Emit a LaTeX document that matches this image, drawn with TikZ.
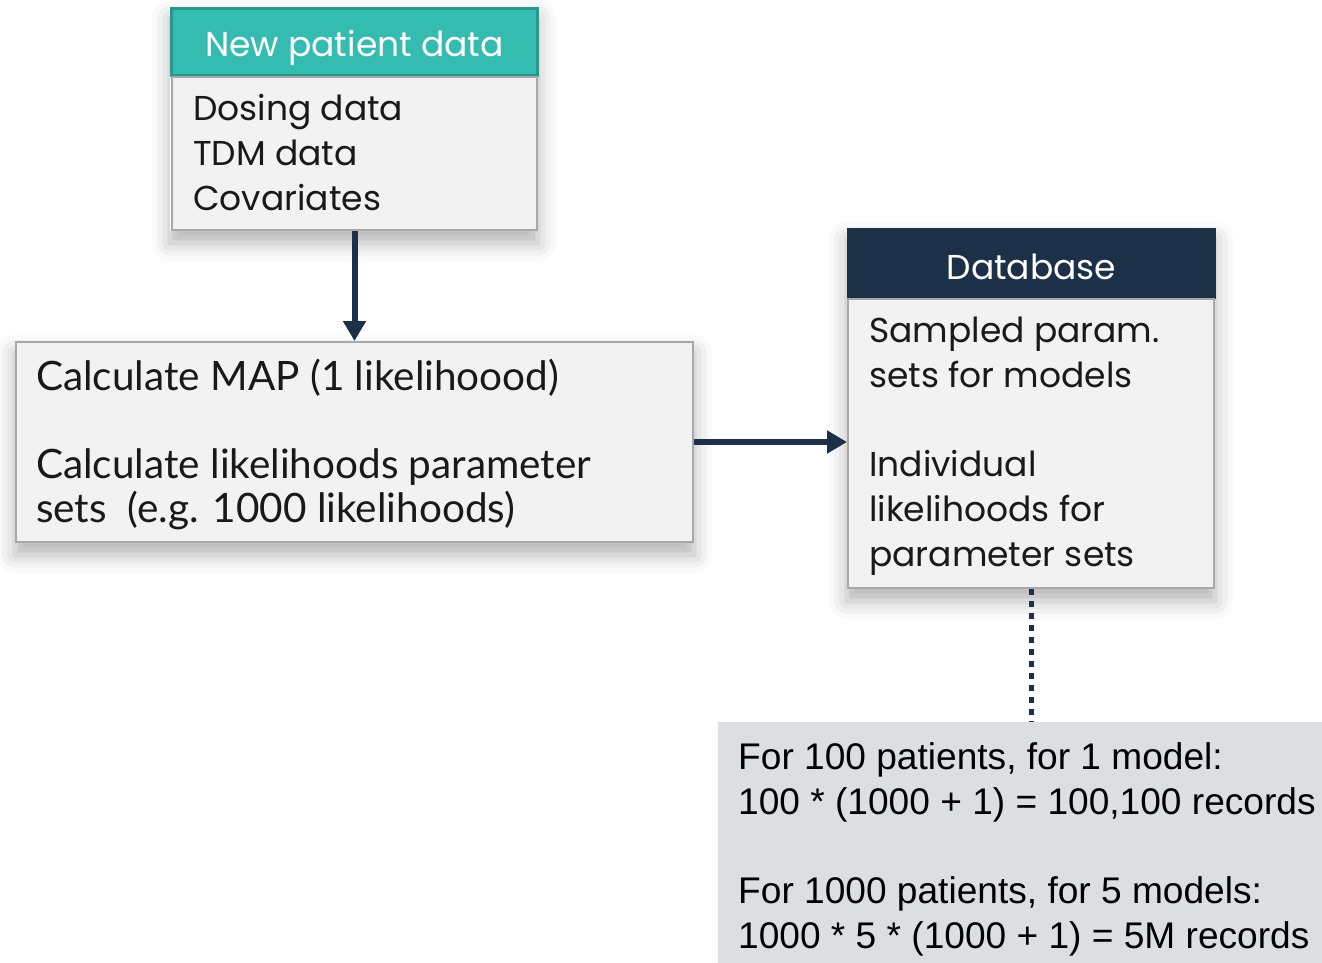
\documentclass[tikz,border=0pt]{standalone}
\usepackage{fontspec}
\setmainfont{Poppins}
\newfontfamily\calcfont{Lato}
\newfontfamily\arialfont{Liberation Sans}
\usetikzlibrary{arrows.meta,shadows.blur}
\definecolor{tealhdr}{HTML}{35BCB0}
\definecolor{tealedge}{HTML}{2A978C}
\definecolor{navy}{HTML}{1C3048}
\definecolor{bodyfill}{HTML}{F2F2F2}
\definecolor{bodyedge}{HTML}{A8A8A8}
\definecolor{notefill}{HTML}{DCDFE2}
\pgfdeclarelayer{bg}
\pgfsetlayers{bg,main}
\tikzset{
  hdrbox/.style={rectangle, inner sep=0pt},
  hdrtext/.style={inner sep=0pt, text=white, font=\fontsize{34.5}{44}\selectfont},
  bodybox/.style={rectangle, inner sep=0pt, fill=bodyfill, draw=bodyedge, line width=2pt},
  bodytext/.style={anchor=west, inner sep=0pt, align=left, text=black!90, font=\fontsize{34.5}{45}\selectfont},
  softshadow/.style={fill=white, blur shadow={shadow xshift=0pt, shadow yshift=-12pt, shadow blur radius=18pt, shadow opacity=30}},
  conn/.style={draw=navy, line width=6pt, -{Triangle[length=20pt,width=22pt]}},
  dotconn/.style={draw=navy, line width=5pt, dash pattern=on 6pt off 6pt},
}
\begin{document}
\begin{tikzpicture}[x=1pt,y=-1pt]
\useasboundingbox (0,0) rectangle (1322,963);

% input box: header and list of data
\node[hdrbox, fill=tealhdr, draw=tealedge, line width=3pt, minimum width=366pt, minimum height=67pt] (nph) at (354.5,42) {};
\node[hdrtext] (npht) at (354.5,47.5) {New patient data};
\node[bodybox, minimum width=365pt, minimum height=153pt] (npb) at (354.5,153.5) {};
\node[bodytext] (npt) at (193,153) {Dosing data\\TDM data\\Covariates};

% calculation box
\node[bodybox, minimum width=677pt, minimum height=200pt] (calc) at (354.5,442) {};
\node[bodytext, font=\calcfont\fontsize{40.5}{44.3}\selectfont] (calct) at (36,444.5) {Calculate MAP (1 likelihoood)\\[44.3pt]Calculate likelihoods parameter\\sets~~(e.g. 1000 likelihoods)};

% database box
\node[hdrbox, fill=navy, minimum width=369pt, minimum height=71pt] (dbh) at (1031.5,263.5) {};
\node[hdrtext] (dbht) at (1031.5,266.5) {Database};
\node[bodybox, minimum width=366pt, minimum height=289pt] (dbb) at (1031,443.5) {};
\node[bodytext, font=\fontsize{34.5}{44.8}\selectfont] (dbt) at (869,446) {Sampled param.\\sets for models\\[44.8pt]Individual\\likelihoods for\\parameter sets};

% record count note
\node[rectangle, inner sep=0pt, fill=notefill, minimum width=604pt, minimum height=241pt] (note) at (1020,842.5) {};
\node[bodytext, text=black, font=\arialfont\fontsize{37.1}{44.7}\selectfont] (notet) at (738,849.5) {For 100 patients, for 1 model:\\100 * (1000 + 1) = 100,100 records\\[44.7pt]For 1000 patients, for 5 models:\\1000 * 5 * (1000 + 1) = 5M records};

% soft shadows behind the boxes
\begin{pgfonlayer}{bg}
  \path[softshadow] (nph.north west) rectangle (npb.south east);
  \path[softshadow] (calc.north west) rectangle (calc.south east);
  \path[softshadow] (dbh.north west) rectangle (dbb.south east);
\end{pgfonlayer}

% connectors
\draw[conn] (npb.south) -- (calc.north);
\draw[conn] (calc.east) -- (calc.east -| dbb.west);
\draw[dotconn] (dbb.south) -- (dbb.south |- note.north);
\end{tikzpicture}
\end{document}
